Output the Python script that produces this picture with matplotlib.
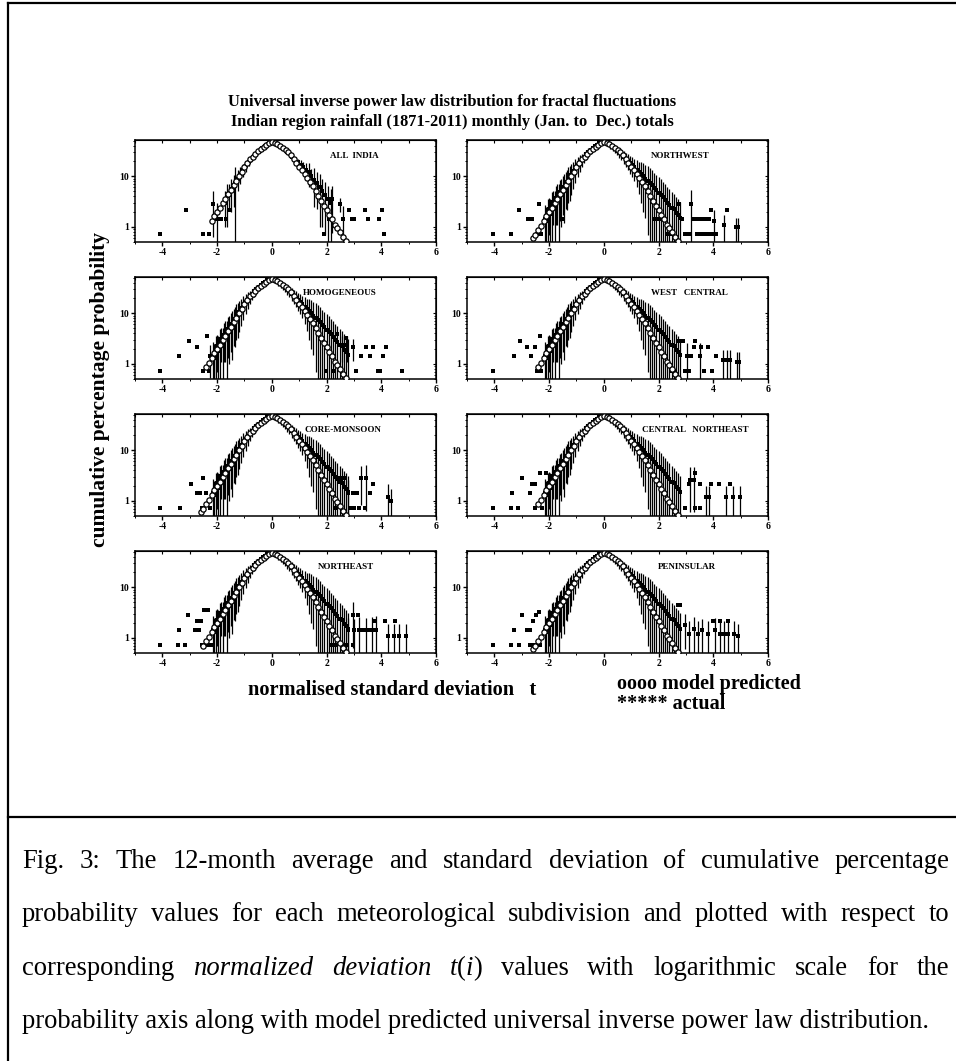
import numpy as np
import matplotlib
matplotlib.use('Agg')
import matplotlib.pyplot as plt
from matplotlib.lines import Line2D
from matplotlib.ticker import LogLocator, NullFormatter
from matplotlib.transforms import IdentityTransform

SERIF = 'Liberation Serif'
plt.rcParams['font.family'] = SERIF
plt.rcParams['axes.unicode_minus'] = False
W, H = 956, 1061

# model predicted (universal inverse power law)
model_t = [-2.6,-2.5,-2.4,-2.3,-2.2,-2.1,-2.0,-1.9,-1.8,-1.7,-1.6,-1.5,-1.4,-1.3,-1.2,-1.1,-1.0,-0.9,-0.8,-0.7,
           -0.6,-0.5,-0.4,-0.3,-0.2,-0.1,0.0,0.1,0.2,0.3,0.4,0.5,0.6,0.7,0.8,0.9,1.0,1.1,1.2,1.3,
           1.4,1.5,1.6,1.7,1.8,1.9,2.0,2.1,2.2,2.3,2.4,2.5,2.6,2.7]
model_p = [0.6,0.7,0.85,1.05,1.3,1.6,1.95,2.4,2.9,3.6,4.4,5.4,6.6,8.1,10,12.3,15,18.5,21.5,24.5,
           28,31.5,35,38.5,42,45,48,46,43,40,36.5,33,30,26,22,18.5,15.5,13,11,9.3,
           7.8,6.4,5.2,4.1,3.2,2.6,2.1,1.7,1.4,1.1,0.95,0.78,0.62,0.52]

# actual: mean and std (dense band, subdivisions)
band_t = [-2.15,-2.10,-2.05,-2.00,-1.95,-1.90,-1.85,-1.80,-1.75,-1.70,-1.65,-1.60,-1.55,-1.50,-1.45,-1.40,-1.35,-1.30,-1.25,-1.20,
          -1.12,-1.04,-0.96,-0.88,-0.80,-0.72,-0.64,-0.56,-0.48,-0.40,-0.32,-0.24,-0.16,-0.08,0.00,
          0.08,0.16,0.24,0.32,0.40,0.48,0.56,0.64,0.72,0.80,0.88,0.96,1.04,1.12,1.20,1.28,1.36,1.44,1.52,1.60,
          1.68,1.76,1.84,1.92,2.00,2.08,2.16,2.24,2.32,2.40,2.48,2.56,2.64,2.72,2.80]
band_p = [1.4,1.3,1.9,2.2,1.8,2.7,3.1,2.6,3.7,4.1,3.6,4.8,5.0,5.9,6.2,7.2,7.6,8.9,9.4,10.8,
          12.5,14.5,16.5,19,21.5,24,27,30,33,36,39,42,45,47,49,
          47,44,41,38,35,32,29.5,27,24.5,22,20,18,16.5,15,13.5,12,11,10,9,8.2,
          7.3,6.6,5.8,5.3,4.7,4.2,3.8,3.4,3.0,2.7,2.4,2.2,1.9,1.7,1.5]
band_e = [1.3,1.2,1.6,1.5,1.7,2.2,2.0,2.5,2.6,3.0,3.4,3.5,4.0,4.2,5.0,5.0,5.5,6.0,6.2,6.5,
          7,7,7,7,6.5,6,6,6,5,5,5,5,5,4,4,
          5,5,6,6,6,6,6.5,6.5,7,7,7,7,7,7,7.5,7.5,8,8,7.5,7.5,
          7,6.5,6,5.5,5,4.5,4,3.6,3.2,2.8,2.5,2.3,2.0,1.8,1.6]

# actual: all India (sparser)
ai_t = [-1.72,-1.62,-1.55,-1.48,-1.40,-1.33,-1.25,-1.15,-1.05,-0.95,-0.85,-0.75,-0.65,-0.55,-0.45,-0.35,-0.25,-0.15,-0.05,0.05,
        0.15,0.25,0.35,0.45,0.55,0.65,0.75,0.85,0.95,1.05,1.15,1.25,1.35,1.45,1.55,1.65,1.75,1.85,1.95,2.05,2.15]
ai_p = [3.0,4.0,4.6,5.5,6.5,7.5,9.0,11,13.5,16,19,22,25.5,29,32,36,40,43,47,47,
        44,40,37,34,30,27,24,21,19,17,15,13.5,12,10,8.5,7.2,6.0,5.0,4.2,3.5,3.0]
ai_e = [2,3,2.5,3.5,4,7.4,4,4,4,4,3,3,3,3,3,3,3,3,3,3,
        3,3,3,3,3,3,3,3,3,4,4,5,6,4,6,5,5,4,3.5,3,2.5]

# isolated tail points (t, percent, std) per panel
ai_tail_t = [-4.08,-3.14,-2.53,-2.29,-2.16,-2.00,-1.87,-1.73,-1.67,-1.51,1.90,2.09,2.20,2.50,2.60,2.83,2.92,3.00,3.40,3.50,3.90,4.04,4.10]
ai_tail_p = [0.71,2.13,0.71,0.71,2.84,1.42,1.42,2.84,1.42,2.13,0.71,1.42,3.55,2.84,1.42,2.13,1.42,1.42,2.13,1.42,1.42,2.13,0.71]
ai_tail_e = [0,0,0,0,2.2,1.6,0,0,0,0,0,0,2.8,0.9,1.1,0,0,0,0,0,0,0,0]

nw_tail_t = [-4.04,-3.38,-3.10,-2.77,-2.61,-2.37,-2.43,-2.31,-1.51,1.85,1.95,2.05,2.33,2.45,2.73,2.86,2.98,3.10,3.20,3.25,
             3.40,3.55,3.70,3.85,3.42,3.55,3.70,3.85,4.00,4.10,3.90,4.50,4.02,4.40,4.84,4.92]
nw_tail_p = [0.71,0.71,2.13,1.42,1.42,2.84,0.71,0.71,1.42,1.42,1.42,1.42,0.71,0.71,2.84,1.42,0.71,0.71,2.84,1.42,
             1.42,1.42,1.42,1.42,0.71,0.71,0.71,0.71,0.71,0.71,2.13,2.13,1.30,1.10,1.00,1.00]
nw_tail_e = [0,0,0,0,0,0,0,0,0,0,0,0,0,0,0,0,0,0,2.6,0,
             0,0,0,0,0,0,0,0,0,0,0,0,0.8,0.6,0.5,0.5]

hm_tail_t = [-4.08,-3.40,-3.04,-2.73,-2.53,-2.28,-2.37,-2.25,-2.12,1.98,2.26,2.40,2.55,2.70,2.73,2.97,3.09,3.27,3.45,3.57,3.69,3.88,3.94,4.06,4.18,4.76]
hm_tail_p = [0.71,1.42,2.84,2.13,0.71,0.71,3.55,1.42,1.42,0.71,0.71,3.9,2.3,3.3,2.3,2.13,0.71,1.42,2.13,1.42,2.13,0.71,0.71,1.42,2.13,0.71]
hm_tail_e = [0,0,0,0,0,0,0,0.9,1.0,0,0,0,1.2,0,1.2,1.0,0,0,0,0,0,0,0,0,0,0]

wc_tail_t = [-4.05,-3.30,-3.05,-2.80,-2.65,-2.50,-2.35,-2.45,-2.30,2.45,2.60,2.75,2.90,3.05,3.20,3.35,3.50,3.65,2.95,3.10,
             3.30,3.55,3.80,3.95,4.10,4.35,4.50,4.60,4.85,4.95]
wc_tail_p = [0.71,1.42,2.84,2.13,1.42,2.13,3.55,0.71,0.71,0.71,0.71,2.84,2.84,1.42,1.42,2.84,1.42,0.71,0.71,0.71,
             2.13,2.13,2.13,0.71,1.42,1.2,1.2,1.2,1.1,1.1]
wc_tail_e = [0,0,0,0,0,0,0,0,0,0,0,0,0,1.2,0,0,1.2,0,0,0,
             0,0,0,0,0,0.7,0.7,0.7,0.6,0.6]

cm_tail_t = [-4.08,-3.35,-2.95,-2.75,-2.62,-2.50,-2.40,-2.55,-2.25,2.30,2.50,2.65,2.80,2.95,3.10,3.25,3.45,2.85,3.00,3.20,3.40,3.60,3.70,4.25,4.35]
cm_tail_p = [0.71,0.71,2.13,1.42,1.42,2.84,1.42,0.71,0.71,0.71,2.84,2.84,1.42,1.42,1.42,2.84,2.84,0.71,0.71,0.71,0.71,1.42,2.13,1.2,1.0]
cm_tail_e = [0,0,0,0,0,0,0,0,0,0,0,0,1.2,0,0,2.0,2.2,0,0,0,0,0,0,0.9,0.7]

cn_tail_t = [-4.04,-3.40,-3.13,-3.37,-3.00,-2.64,-2.51,-2.70,-2.33,-2.11,-2.51,-2.27,2.98,3.35,3.53,3.35,3.10,3.50,3.90,4.20,
             4.60,3.15,3.30,3.75,3.85,4.47,4.71,4.96]
cn_tail_p = [0.71,0.71,0.71,1.42,2.84,2.13,2.13,1.42,3.55,3.55,0.71,0.71,0.71,0.71,0.71,3.55,2.13,2.13,2.13,2.13,
             2.13,2.6,2.6,1.2,1.2,1.2,1.2,1.2]
cn_tail_e = [0,0,0,0,0,0,0,0,0,0,0,0,0,0,0,0,0,0,0,0,
             0,2.0,2.0,0.8,0.8,0.8,0.8,0.8]

ne_tail_t = [-4.08,-3.43,-3.16,-3.40,-3.06,-2.79,-2.67,-2.73,-2.60,-2.48,-2.33,-2.55,-2.45,-2.35,-2.24,2.15,2.35,2.55,2.75,2.95,
             2.97,3.15,3.35,3.55,3.78,4.15,4.50,2.80,3.00,3.20,3.45,3.65,3.80,4.25,4.45,4.65,4.90]
ne_tail_p = [0.71,0.71,0.71,1.42,2.84,1.42,1.42,2.13,2.13,3.55,3.55,0.71,0.71,0.71,0.71,0.71,0.71,0.71,0.71,0.71,
             2.84,2.84,1.42,1.42,2.13,2.13,2.13,1.42,1.42,1.42,1.42,1.42,1.42,1.1,1.1,1.1,1.1]
ne_tail_e = [0,0,0,0,0,0,0,0,0,0,0,0,0,0,0,0,0,0,0,0,
             2.2,0,0,0,0,0,0,1.0,0.9,1.2,1.0,1.2,1.3,0.8,0.8,0.8,0.8]

pn_tail_t = [-4.04,-3.40,-3.10,-3.00,-3.30,-2.80,-2.68,-2.60,-2.49,-2.37,-2.68,-2.58,-2.45,-2.34,2.70,2.80,3.99,4.24,4.55,2.95,
             3.10,3.30,3.45,3.60,3.80,4.05,4.25,4.40,4.55,4.75,4.90]
pn_tail_p = [0.71,0.71,0.71,2.84,1.42,1.42,1.42,2.13,2.84,3.3,0.71,0.71,0.71,0.71,4.4,4.4,2.13,2.13,2.13,1.8,
             1.2,1.5,1.2,1.4,1.2,1.42,1.2,1.2,1.2,1.2,1.1]
pn_tail_e = [0,0,0,0,0,0,0,0,0,0,0,0,0,0,0,0,0,0,0,1.2,
             0.9,1.1,0.9,1.0,0.9,1.0,0.9,0.9,0.9,0.9,0.8]

names = ['ALL  INDIA', 'NORTHWEST', 'HOMOGENEOUS', 'WEST   CENTRAL',
         'CORE-MONSOON', 'CENTRAL   NORTHEAST', 'NORTHEAST', 'PENINSULAR']
bodies = [(ai_t, ai_p, ai_e)] + [(band_t, band_p, band_e)] * 7
tails = [(ai_tail_t, ai_tail_p, ai_tail_e), (nw_tail_t, nw_tail_p, nw_tail_e),
         (hm_tail_t, hm_tail_p, hm_tail_e), (wc_tail_t, wc_tail_p, wc_tail_e),
         (cm_tail_t, cm_tail_p, cm_tail_e), (cn_tail_t, cn_tail_p, cn_tail_e),
         (ne_tail_t, ne_tail_p, ne_tail_e), (pn_tail_t, pn_tail_p, pn_tail_e)]
model_tmin = [-2.25, -2.6, -2.4, -2.4, -2.6, -2.4, -2.5, -2.6]

# label x position (axes fraction) for each panel name
label_x = [0.73, 0.71, 0.68, 0.74, 0.69, 0.76, 0.70, 0.73]

fig = plt.figure(figsize=(W / 100, H / 100), dpi=100)

col_x = [135, 467]
row_top = [140, 277, 414, 551]
AW, AH = 301, 102


def draw_actual(ax, t, p, e):
    t = np.asarray(t); p = np.asarray(p); e = np.asarray(e)
    m = e > 0
    lo = np.clip(p[m] - e[m], 0.3, None)
    ax.vlines(t[m], lo, p[m] + e[m], color='black', lw=0.9, zorder=2)
    ax.plot(t, p, 's', color='black', ms=2.2, mew=0, zorder=3)


for i, name in enumerate(names):
    r, c = divmod(i, 2)
    ax = fig.add_axes([col_x[c] / W, 1 - (row_top[r] + AH) / H, AW / W, AH / H])
    ax.set_yscale('log')
    draw_actual(ax, *bodies[i])
    draw_actual(ax, *tails[i])
    mt = np.asarray(model_t); mp = np.asarray(model_p)
    keep = mt >= model_tmin[i]
    ax.plot(mt[keep], mp[keep], 'o', ms=3.8, mfc='white', mec='black', mew=0.9, zorder=4)

    ax.set_xlim(-5, 6)
    ax.set_ylim(0.5, 52)
    ax.set_xticks([-4, -2, 0, 2, 4, 6])
    ax.set_xticklabels(['-4', '-2', '0', '2', '4', '6'])
    ax.set_xticks(range(-5, 7), minor=True)
    ax.set_yticks([1, 10])
    ax.set_yticklabels(['1', '10'])
    ax.yaxis.set_minor_locator(LogLocator(subs=np.arange(2, 10)))
    ax.yaxis.set_minor_formatter(NullFormatter())
    ax.tick_params(which='both', direction='out', labelsize=7, pad=1.5)
    ax.tick_params(which='major', length=3, width=1)
    ax.tick_params(which='minor', length=1.5, width=0.7)
    for lab in ax.get_xticklabels() + ax.get_yticklabels():
        lab.set_fontweight('bold')
    for sp in ax.spines.values():
        sp.set_linewidth(1.1)
    sx = ax.secondary_xaxis('top')
    sx.set_xticks(range(-5, 7))
    sx.tick_params(direction='in', length=2.5, width=0.8, labeltop=False)
    sy = ax.secondary_yaxis('right')
    sy.set_yticks([1, 10])
    sy.tick_params(which='both', direction='in', labelright=False)
    sy.tick_params(which='minor', length=1.5, width=0.6)
    sy.tick_params(which='major', length=2.5, width=0.8)
    sy.yaxis.set_minor_formatter(NullFormatter())

    ax.text(label_x[i], 0.84, name, transform=ax.transAxes, ha='center', va='center',
            fontsize=6.5, fontweight='bold')

# titles and axis texts
fig.text(452 / W, 1 - 102 / H, 'Universal inverse power law distribution for fractal fluctuations',
         ha='center', va='center', fontsize=11.8, fontweight='bold')
fig.text(452 / W, 1 - 122 / H, 'Indian region rainfall (1871-2011) monthly (Jan. to  Dec.) totals',
         ha='center', va='center', fontsize=11.8, fontweight='bold')
fig.text(100 / W, 1 - 390 / H, 'cumulative percentage probability', rotation=90,
         ha='center', va='center', fontsize=15.5, fontweight='bold')
fig.text(392 / W, 1 - 690 / H, 'normalised standard deviation   t', ha='center', va='center',
         fontsize=14.7, fontweight='bold')
fig.text(617 / W, 1 - 684 / H, 'oooo model predicted', ha='left', va='center', fontsize=14.5, fontweight='bold')
fig.text(617 / W, 1 - 704 / H, '***** actual', ha='left', va='center', fontsize=14.5, fontweight='bold')

# frame lines
for (x0, y0, x1, y1) in [(8, 3, 956, 3), (8, 3, 8, 1061), (8, 817, 956, 817)]:
    fig.add_artist(Line2D([x0 / W, x1 / W], [1 - y0 / H, 1 - y1 / H], color='black', lw=1.6,
                          transform=fig.transFigure))

# caption, justified
N, I = 'normal', 'italic'
cap_lines = [
    [[('Fig.', N)], [('3:', N)], [('The', N)], [('12-month', N)], [('average', N)], [('and', N)], [('standard', N)],
     [('deviation', N)], [('of', N)], [('cumulative', N)], [('percentage', N)]],
    [[('probability', N)], [('values', N)], [('for', N)], [('each', N)], [('meteorological', N)], [('subdivision', N)],
     [('and', N)], [('plotted', N)], [('with', N)], [('respect', N)], [('to', N)]],
    [[('corresponding', N)], [('normalized', I)], [('deviation', I)], [('t', I), ('(', N), ('i', I), (')', N)],
     [('values', N)], [('with', N)], [('logarithmic', N)], [('scale', N)], [('for', N)], [('the', N)]],
    [[('probability axis along with model predicted universal inverse power law distribution.', N)]],
]
cap_base = [868, 921, 975, 1028]
renderer = fig.canvas.get_renderer()
probe = fig.text(0, 0, cap_lines[3][0][0][0], fontsize=10)
cap_fs = 10 * 907 / probe.get_window_extent(renderer).width
probe.remove()
X0, X1 = 22, 949
for k, words in enumerate(cap_lines):
    y = H - cap_base[k]
    arts = []
    widths = []
    for w in words:
        segs = []
        ww = 0
        for s, st in w:
            t = fig.text(0, 0, s, fontsize=cap_fs, style=st, transform=IdentityTransform(), va='baseline')
            segs.append(t)
            ww += t.get_window_extent(renderer).width
        arts.append(segs)
        widths.append(ww)
    gap = (X1 - X0 - sum(widths)) / (len(words) - 1) if len(words) > 1 else 0
    x = X0
    for segs, ww in zip(arts, widths):
        xx = x
        for t in segs:
            t.set_position((xx, y))
            xx += t.get_window_extent(renderer).width
        x += ww + gap

fig.savefig('out.png', dpi=100)
